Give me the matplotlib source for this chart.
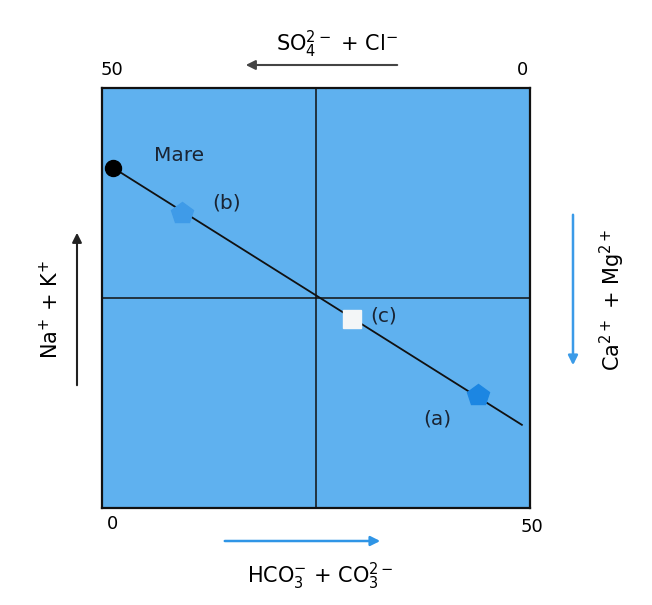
import numpy as np
import matplotlib.pyplot as plt

# Diagramma di Langelier-Ludwig: campioni sulla linea di mescolamento con acqua di mare

# Dati (coordinate nel quadrato 0-100)
nomi = ['Mare', '(b)', '(c)', '(a)']
x_vals = [2.6, 18.7, 58.4, 87.9]
y_vals = [81.0, 70.2, 45.0, 26.9]
linea_x = [2.6, 98.1]
linea_y = [81.0, 19.8]

top_ticks = ['50', '0']
bottom_ticks = ['0', '50']

W, H = 652, 605
fig = plt.figure(figsize=(W / 100, H / 100), dpi=100)
fig.patch.set_facecolor('white')


def fx(px):
    return px / W


def fy(py):
    return 1 - py / H


ax = fig.add_axes([fx(102), fy(508), (530 - 102) / W, (508 - 88) / H])
ax.set_facecolor('#5fb1ef')
ax.set_xlim(0, 100)
ax.set_ylim(0, 100)
ax.set_xticks([])
ax.set_yticks([])
for s in ax.spines.values():
    s.set_linewidth(1.6)
    s.set_color('#111111')

ax.axvline(50, color='#111111', lw=1.1)
ax.axhline(50, color='#111111', lw=1.1)

# linea di mescolamento
ax.plot(linea_x, linea_y, color='#111111', lw=1.3, zorder=2)

# punti
ax.plot(x_vals[0], y_vals[0], 'o', ms=11.5, color='black', zorder=4, clip_on=False)
ax.plot(x_vals[1], y_vals[1], 'p', ms=16, color='#3f9be8', mec='#3f9be8', zorder=4)
ax.plot(x_vals[2], y_vals[2], 's', ms=12.5, color='#f3f6f7', mec='#f3f6f7', zorder=4)
ax.plot(x_vals[3], y_vals[3], 'p', ms=16, color='#1c86e2', mec='#1c86e2', zorder=4)

# etichette dei punti
offs = [(15.5, 2.9), (10.5, 2.4), (7.5, 0.7), (-9.5, -5.8)]
for n, x, y, (dx, dy) in zip(nomi, x_vals, y_vals, offs):
    ax.text(x + dx, y + dy, n, fontsize=14.5, color='#1a2433', ha='center', va='center')

# tick agli angoli
fig.text(fx(112), fy(70), top_ticks[0], fontsize=13, ha='center', va='center')
fig.text(fx(522), fy(70), top_ticks[1], fontsize=13, ha='center', va='center')
fig.text(fx(112), fy(524), bottom_ticks[0], fontsize=13, ha='center', va='center')
fig.text(fx(532), fy(527), bottom_ticks[1], fontsize=13, ha='center', va='center')

# assi con frecce
fig.text(fx(337), fy(44), r'SO$_4^{2-}$ + Cl$^{-}$', fontsize=15, ha='center', va='center')
fig.patches.append(plt.matplotlib.patches.FancyArrowPatch(
    (fx(400), fy(65)), (fx(243), fy(65)), transform=fig.transFigure,
    arrowstyle='-|>', mutation_scale=14, color='#444444', lw=1.5))

fig.text(fx(320), fy(576), r'HCO$_3^{-}$ + CO$_3^{2-}$', fontsize=15, ha='center', va='center')
fig.patches.append(plt.matplotlib.patches.FancyArrowPatch(
    (fx(222), fy(541)), (fx(383), fy(541)), transform=fig.transFigure,
    arrowstyle='-|>', mutation_scale=14, color='#2f95e6', lw=1.8))

fig.text(fx(612), fy(300), r'Ca$^{2+}$ + Mg$^{2+}$', fontsize=15, ha='center', va='center',
         rotation=90)
fig.patches.append(plt.matplotlib.patches.FancyArrowPatch(
    (fx(573), fy(212)), (fx(573), fy(368)), transform=fig.transFigure,
    arrowstyle='-|>', mutation_scale=14, color='#3b9be8', lw=1.8))

fig.text(fx(50), fy(310), r'Na$^{+}$ + K$^{+}$', fontsize=15, ha='center', va='center',
         rotation=90)
fig.patches.append(plt.matplotlib.patches.FancyArrowPatch(
    (fx(77), fy(388)), (fx(77), fy(230)), transform=fig.transFigure,
    arrowstyle='-|>', mutation_scale=14, color='#222222', lw=1.5))

fig.savefig('out.png', dpi=100)
